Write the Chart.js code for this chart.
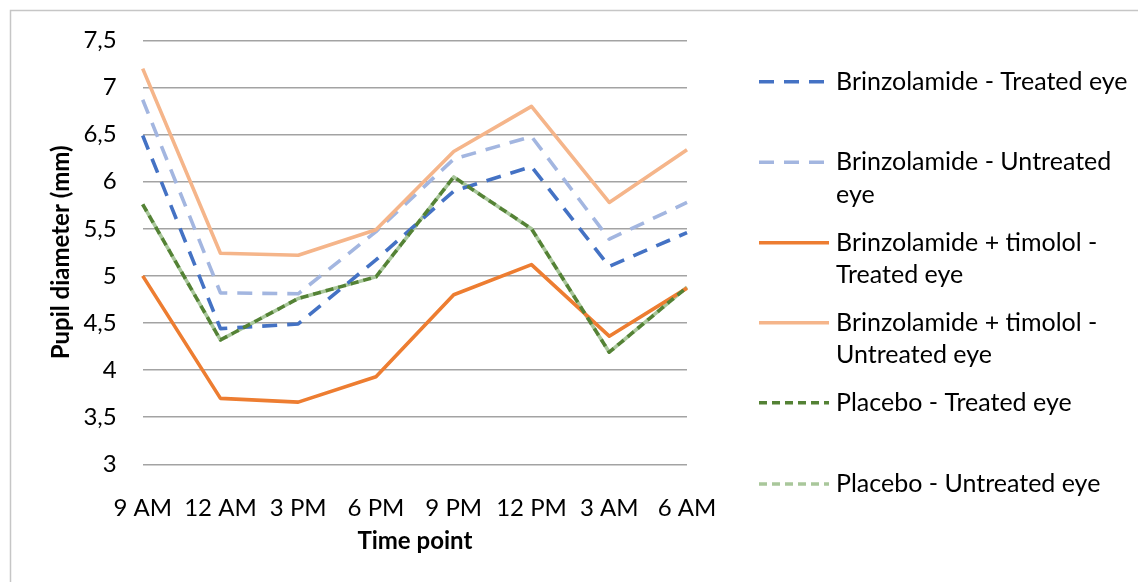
<!DOCTYPE html>
<html>
 <head>
  <title>Pupil diameter</title>
  <style>
  body {
   margin: 0;
   background: #fff;
  }
  </style>
 </head>
 <body>
 <canvas id="chart-pupil" width="1138" height="582"></canvas>
 <script src="https://cdn.jsdelivr.net/npm/chart.js@4.4.1/dist/chart.umd.min.js"></script>
 <script type="text/javascript">
  // Time points (x axis)
  const timePoints = ['9 AM', '12 AM', '3 PM', '6 PM', '9 PM', '12 PM', '3 AM', '6 AM'];

  // Series names, as wrapped in the legend
  const seriesNames = [
    ['Brinzolamide - Treated eye'],
    ['Brinzolamide - Untreated', 'eye'],
    ['Brinzolamide + timolol -', 'Treated eye'],
    ['Brinzolamide + timolol -', 'Untreated eye'],
    ['Placebo - Treated eye'],
    ['Placebo - Untreated eye']
  ];

  // Pupil diameter (mm)
  const brinzTreated = [6.49, 4.44, 4.49, 5.17, 5.90, 6.16, 5.10, 5.46];
  const brinzUntreated = [6.87, 4.82, 4.81, 5.47, 6.24, 6.48, 5.39, 5.78];
  const brinzTimTreated = [5.00, 3.70, 3.66, 3.93, 4.80, 5.12, 4.36, 4.87];
  const brinzTimUntreated = [7.20, 5.24, 5.22, 5.49, 6.32, 6.80, 5.78, 6.34];
  const placeboTreated = [5.76, 4.32, 4.76, 4.99, 6.05, 5.50, 4.19, 4.88];
  const placeboUntreated = [5.76, 4.32, 4.76, 4.99, 6.05, 5.50, 4.19, 4.88];

  // Y axis range
  const yMin = 3;
  const yMax = 7.5;
  const yStep = 0.5;

  const FONT = 'Lato';

  const styles = [
    {color: '#4472C4', dash: [15, 10], order: 6, offset: 0},
    {color: '#A3B6E0', dash: [15, 10], order: 5, offset: 0},
    {color: '#ED7D31', dash: [], order: 4, offset: 0},
    {color: '#F5B58A', dash: [], order: 3, offset: 0},
    {color: '#548235', dash: [8, 5], order: 2, offset: 0},
    {color: '#A9C79B', dash: [8, 5], order: 10, offset: 6.5}
  ];
  const allSeries = [brinzTreated, brinzUntreated, brinzTimTreated, brinzTimUntreated, placeboTreated, placeboUntreated];

  // Frame round the whole chart
  const framePlugin = {
    id: 'frame',
    beforeDraw(chart) {
      const ctx = chart.ctx;
      ctx.save();
      ctx.strokeStyle = '#c6c6c6';
      ctx.lineWidth = 1.5;
      ctx.strokeRect(10.5, 10.5, chart.width, chart.height);
      ctx.restore();
    }
  };

  // Legend on the right, with wrapped labels
  const legendPlugin = {
    id: 'sideLegend',
    afterDraw(chart) {
      const ctx = chart.ctx;
      const rowY = [81.7, 162.3, 242.7, 322.7, 402.7, 484];
      ctx.save();
      ctx.font = '25px ' + FONT;
      ctx.textBaseline = 'middle';
      ctx.textAlign = 'left';
      seriesNames.forEach((lines, i) => {
        const y = rowY[i];
        ctx.strokeStyle = styles[i].color;
        ctx.lineWidth = 3.5;
        ctx.setLineDash(styles[i].dash);
        ctx.beginPath();
        ctx.moveTo(759, y);
        ctx.lineTo(829, y);
        ctx.stroke();
        ctx.setLineDash([]);
        ctx.fillStyle = '#000';
        lines.forEach((t, k) => ctx.fillText(t, 836, y + k * 32.5));
      });
      ctx.restore();
    }
  };

  const ctx_p = document.getElementById('chart-pupil').getContext('2d');
  const pupilChart = new Chart(ctx_p, {
    type: 'line',
    data: {
      labels: timePoints,
      datasets: allSeries.map((vals, i) => ({
        label: seriesNames[i].join(' '),
        data: vals,
        borderColor: styles[i].color,
        borderDash: styles[i].dash,
        borderDashOffset: styles[i].offset,
        borderWidth: 3.6,
        borderJoinStyle: 'round',
        pointRadius: 0,
        tension: 0,
        fill: false,
        order: styles[i].order
      }))
    },
    options: {
      responsive: false,
      animation: false,
      layout: {
        padding: {left: 10, right: 451, top: 39.3, bottom: 0}
      },
      plugins: {
        legend: {display: false},
        tooltip: {enabled: false}
      },
      scales: {
        x: {
          offset: false,
          grid: {display: false},
          border: {display: false},
          ticks: {
            color: '#000',
            padding: 21.3,
            maxRotation: 0,
            autoSkip: false,
            font: {family: FONT, size: 24}
          },
          title: {
            display: true,
            text: 'Time point',
            color: '#000',
            padding: {top: 0, bottom: 26.6},
            font: {family: FONT, size: 24, weight: 'bold'}
          },
          afterFit(scale) {
            scale.height = 117.7;
          }
        },
        y: {
          min: yMin,
          max: yMax,
          grid: {
            color: '#a3a3a3',
            lineWidth: 1.4,
            drawTicks: false
          },
          border: {display: false},
          ticks: {
            stepSize: yStep,
            color: '#000',
            padding: 26,
            font: {family: FONT, size: 24},
            callback: v => String(v).replace('.', ',')
          },
          title: {
            display: true,
            text: 'Pupil diameter (mm)',
            color: '#000',
            padding: {top: 37.3, bottom: 0},
            font: {family: FONT, size: 24, weight: 'bold'}
          },
          afterFit(scale) {
            scale.width = 132.7;
          }
        }
      }
    },
    plugins: [framePlugin, legendPlugin]
  });
 </script>
 </body>
</html>
